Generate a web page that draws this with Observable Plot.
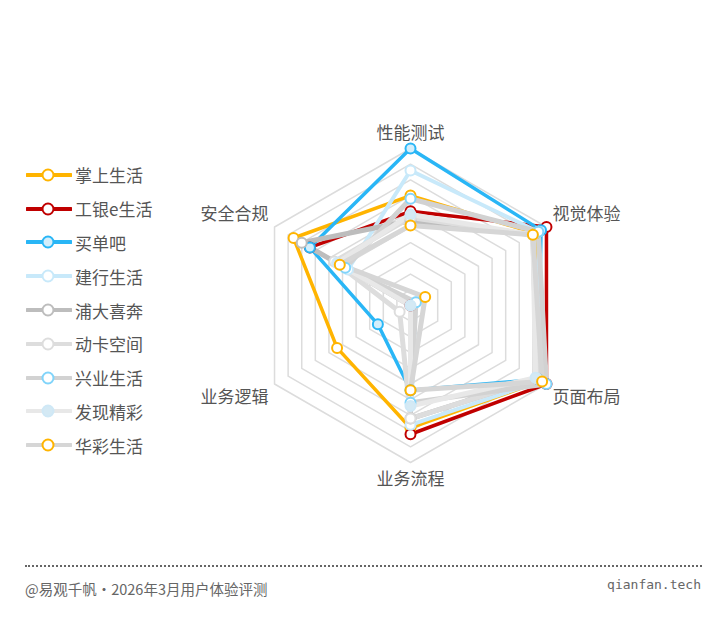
<!DOCTYPE html>
<html>
<head>
<meta charset="utf-8">
<script src="https://cdn.jsdelivr.net/npm/d3@7"></script>
<script src="https://cdn.jsdelivr.net/npm/@observablehq/plot@0.6"></script>
<style>
  body { margin: 0; background: #fff; font-family: "Noto Sans CJK SC", "Noto Sans", sans-serif; }
  #wrap { position: relative; width: 726px; height: 621px; overflow: hidden; }
  #chart { position: absolute; left: 0; top: 0; }
  #legend { position: absolute; left: 26px; top: 158px; }
  .item { height: 33.8px; display: flex; align-items: center; font-size: 17px; color: #555; }
  .item svg { margin-right: 3px; }
  #rule { position: absolute; left: 25px; top: 565px; width: 677px; border-top: 2px dotted #666; }
  #cap { position: absolute; left: 25px; top: 578px; font-size: 14.5px; color: #666; }
  #site { position: absolute; right: 25px; top: 577px; font-size: 13px; color: #666; font-family: "DejaVu Sans Mono", monospace; }
</style>
</head>
<body>
<div id="wrap">
  <div id="chart"></div>
  <div id="legend"></div>
  <div id="rule"></div>
  <div id="cap">@易观千帆・2026年3月用户体验评测</div>
  <div id="site">qianfan.tech</div>
</div>
<script>
// Axes (clockwise from top)
const axes = ["性能测试", "视觉体验", "页面布局", "业务流程", "业务逻辑", "安全合规"];
const gridLevels = [55, 60, 65, 70, 75, 80, 85, 90, 95, 100];
const valueMin = 50, valueMax = 100;

// Series values, in axis order
const seriesNames = ["掌上生活", "工银e生活", "买单吧", "建行生活", "浦大喜奔", "动卡空间", "兴业生活", "发现精彩", "华彩生活"];
const zhangshang = [85, 96, 98, 89, 77, 93];
const gongyin    = [80, 100, 100, 91, 50, 87];
const maidanba   = [100, 98, 97, 77, 62, 87];
const jianhang   = [93, 97, 98, 88, 48, 73];
const pudaxiben  = [77, 95, 96.5, 86, 50, 90];
const dongka     = [78, 95, 96.5, 86, 54, 78];
const xingye     = [84, 97, 100, 81, 48, 74];
const faxian     = [79, 95, 96, 82, 50, 77];
const huacai     = [75.5, 95, 98.4, 77, 44.6, 76];
const seriesValues = [zhangshang, gongyin, maidanba, jianhang, pudaxiben, dongka, xingye, faxian, huacai];

// Styles
const lineColors   = ["#FFB400", "#C00000", "#29B6F6", "#C8E9FA", "#BDBDBD", "#DDDDDD", "#D2D2D2", "#E8E8E8", "#D6D6D6"];
const markerFill   = ["#fff", "#fff", "#D3EEFB", "#fff", "#fff", "#fff", "#fff", "#D4E9F4", "#fff"];
const markerStroke = ["#FFB400", "#C00000", "#29B6F6", "#C8E9FA", "#BDBDBD", "#DDDDDD", "#81D4FA", "#CFE8F6", "#FFB400"];
const lineWidths   = [3.5, 3.5, 3.5, 4, 5, 5, 5, 5, 5];

const R = 157;
const rScale = d3.scaleLinear().domain([valueMin, valueMax]).range([0, R]);
const ang = i => i * Math.PI / 3;
const px = (v, i) => rScale(v) * Math.sin(ang(i));
const py = (v, i) => -rScale(v) * Math.cos(ang(i));

const gridData = gridLevels.flatMap(l => axes.map((a, i) => ({level: l, x: px(l, i), y: py(l, i)})));
const seriesData = seriesNames.map((name, s) => seriesValues[s].map((v, i) => ({name, axis: axes[i], x: px(v, i), y: py(v, i)})));
const axisPts = axes.map((a, i) => ({label: a, x: px(valueMax, i), y: py(valueMax, i)}));

const labelOffsets = [
  {dx: 0, dy: -15, anchor: "middle"},
  {dx: 6, dy: -12, anchor: "start"},
  {dx: 6, dy: 14, anchor: "start"},
  {dx: 0, dy: 17, anchor: "middle"},
  {dx: -6, dy: 14, anchor: "end"},
  {dx: -6, dy: -12, anchor: "end"}
];

const marks = [
  Plot.line(gridData, {x: "x", y: "y", z: "level", curve: "linear-closed", stroke: "#DCDCDC", strokeWidth: 1.5})
];
seriesData.forEach((d, s) => {
  marks.push(Plot.line(d, {x: "x", y: "y", curve: "linear-closed", stroke: lineColors[s], strokeWidth: lineWidths[s], strokeLinejoin: "round"}));
});
seriesData.forEach((d, s) => {
  marks.push(Plot.dot(d, {x: "x", y: "y", r: 5, fill: markerFill[s], stroke: markerStroke[s], strokeWidth: 2}));
});
axisPts.forEach((p, i) => {
  const o = labelOffsets[i];
  marks.push(Plot.text([p], {x: "x", y: "y", text: "label", dx: o.dx, dy: o.dy, textAnchor: o.anchor, fontSize: 17, fill: "#555"}));
});

const chart = Plot.plot({
  width: 726,
  height: 560,
  margin: 0,
  x: {type: "linear", domain: [-410, 316], range: [0, 726], axis: null},
  y: {type: "linear", domain: [-305, 255], range: [0, 560], axis: null},
  style: {fontFamily: '"Noto Sans CJK SC", "Noto Sans", sans-serif', background: "transparent"},
  marks
});
document.getElementById("chart").appendChild(chart);

// Legend
const legend = document.getElementById("legend");
seriesNames.forEach((name, s) => {
  const item = document.createElement("div");
  item.className = "item";
  item.innerHTML = `<svg width="46" height="16"><line x1="1" y1="8" x2="45" y2="8" stroke="${lineColors[s]}" stroke-width="4" stroke-linecap="round"/><circle cx="22" cy="8" r="5.5" fill="${markerFill[s]}" stroke="${markerStroke[s]}" stroke-width="2"/></svg><span>${name}</span>`;
  legend.appendChild(item);
});
</script>
</body>
</html>
